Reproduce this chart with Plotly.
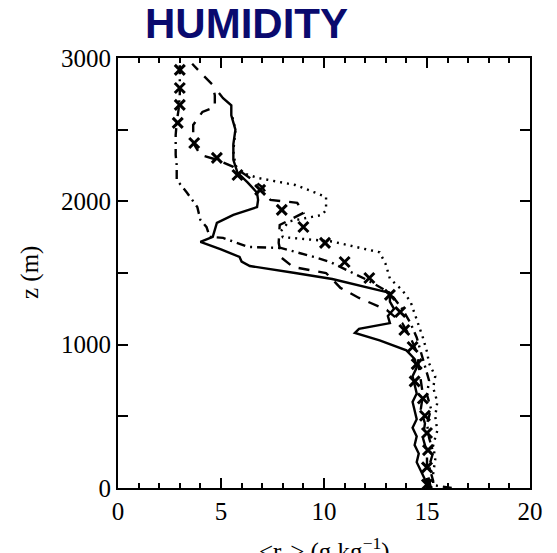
import plotly.graph_objects as go

# ---- data (x = <r_v> in g/kg, z = height in m) ----
solid_z = [0, 60, 120, 180, 240, 300, 360, 420, 480, 540, 600, 660, 720, 780, 840, 900, 960,
           1030, 1082, 1110, 1150, 1200, 1250, 1300, 1361, 1410, 1458, 1500, 1549, 1580, 1612,
           1665, 1717, 1752, 1800, 1850, 1905, 1960, 2010, 2060, 2130, 2200, 2290, 2400, 2500,
           2600, 2670, 2720, 2756]
solid_x = [15.1, 14.9, 14.7, 14.5, 14.6, 14.4, 14.5, 14.3, 14.5, 14.4, 14.3, 14.5, 14.4, 14.3,
           14.5, 14.4, 14.0, 12.7, 11.5, 11.7, 13.2, 13.1, 13.4, 13.2, 13.2, 11.8, 10.4, 8.6,
           6.4, 6.0, 5.9, 5.0, 4.0, 4.6, 4.7, 4.8, 5.6, 6.75, 6.8, 6.75, 6.3, 5.8, 5.6, 5.6,
           5.7, 5.5, 5.5, 5.1, 4.9]

dotted_z = [0, 100, 200, 300, 400, 500, 600, 700, 780, 870, 950, 1050, 1170, 1300, 1380, 1460,
            1560, 1645, 1680, 1720, 1750, 1790, 1860, 1890, 1905, 1940, 1990, 2030, 2065, 2114,
            2163, 2200, 2250, 2350, 2500, 2620]
dotted_x = [15.2, 15.3, 15.4, 15.3, 15.5, 15.4, 15.5, 15.3, 15.4, 15.1, 15.0, 14.8, 14.5, 14.2,
            13.8, 13.2, 13.0, 12.7, 11.6, 10.4, 8.0, 7.9, 8.3, 9.5, 9.9, 10.1, 10.1, 10.1, 9.5,
            8.6, 6.8, 6.0, 5.7, 5.6, 5.7, 5.5]

dashed_z = [0, 50, 150, 250, 350, 450, 550, 650, 750, 850, 950, 1050, 1150, 1242, 1326, 1396,
            1500, 1542, 1605, 1710, 1835, 1919, 1990, 2010, 2100, 2184, 2240, 2290, 2324, 2407,
            2533, 2624, 2659, 2740, 2812, 2870, 2960]
dashed_x = [15.2, 15.1, 15.0, 15.0, 14.8, 14.9, 14.7, 14.8, 14.7, 14.6, 14.5, 14.2, 13.8, 13.05,
            11.7, 10.8, 10.1, 8.5, 7.95, 7.8, 7.85, 9.0, 8.7, 7.4, 7.0, 6.2, 5.6, 4.8, 4.0,
            3.65, 3.65, 4.1, 4.7, 4.7, 4.6, 4.2, 3.6]

dashdot_z = [0, 20, 50, 150, 250, 350, 450, 550, 650, 750, 850, 950, 1050, 1150, 1250, 1361,
             1451, 1521, 1577, 1612, 1675, 1682, 1745, 1752, 1820, 1870, 1960, 2060, 2150, 2250,
             2324, 2393, 2463, 2550, 2650, 2750, 2850, 2950]
dashdot_x = [16.2, 15.3, 15.3, 15.1, 15.3, 15.1, 15.0, 15.2, 15.0, 15.1, 14.9, 14.7, 14.5, 14.2,
             13.8, 13.2, 12.1, 11.1, 10.3, 9.5, 7.9, 6.3, 5.1, 4.45, 4.3, 4.0, 3.85, 3.35, 2.85,
             2.85, 2.8, 2.8, 2.8, 2.85, 2.95, 3.0, 3.0, 3.0]

obs_z = [24, 144, 264, 384, 504, 624, 744, 864, 984, 1102, 1228, 1347, 1465, 1577, 1710, 1821,
         1940, 2080, 2184, 2303, 2407, 2547, 2673, 2791, 2917]
obs_x = [15.0, 15.0, 15.05, 15.0, 14.9, 14.8, 14.4, 14.5, 14.3, 13.9, 13.7, 13.2, 12.2, 11.0,
         10.05, 9.0, 7.95, 6.9, 5.8, 4.8, 3.7, 2.9, 3.0, 3.0, 3.0]

y_tickvals = [0, 500, 1000, 1500, 2000, 2500, 3000]
y_ticktext = ["0", "", "1000", "", "2000", "", "3000"]
x_tickvals = [0, 5, 10, 15, 20]
x_ticktext = ["0", "5", "10", "15", "20"]

fig = go.Figure()
lw = 2.4
fig.add_trace(go.Scatter(x=dotted_x, y=dotted_z, mode="lines",
                         line=dict(color="black", width=lw, dash="2px,5px")))
fig.add_trace(go.Scatter(x=dashdot_x, y=dashdot_z, mode="lines",
                         line=dict(color="black", width=lw, dash="9px,5px,2px,5px")))
fig.add_trace(go.Scatter(x=dashed_x, y=dashed_z, mode="lines",
                         line=dict(color="black", width=lw, dash="11px,9px")))
fig.add_trace(go.Scatter(x=solid_x, y=solid_z, mode="lines",
                         line=dict(color="black", width=lw)))
fig.add_trace(go.Scatter(x=obs_x, y=obs_z, mode="markers",
                         marker=dict(symbol="x-thin", size=10, color="black",
                                     line=dict(color="black", width=3))))

axis_font = dict(family="Liberation Serif", size=25, color="black")
fig.update_xaxes(range=[0, 20], tickvals=x_tickvals, ticktext=x_ticktext,
                 ticks="inside", ticklen=10, tickwidth=2, tickcolor="black",
                 minor=dict(dtick=1, ticks="inside", ticklen=5, tickwidth=1.5, tickcolor="black"),
                 showline=True, linewidth=2, linecolor="black", mirror="ticks",
                 showgrid=False, zeroline=False, tickfont=axis_font, automargin=False)
fig.update_yaxes(range=[0, 3000], tickvals=y_tickvals, ticktext=y_ticktext,
                 ticks="inside", ticklen=10, tickwidth=2, tickcolor="black",
                 showline=True, linewidth=2, linecolor="black", mirror="ticks",
                 showgrid=False, zeroline=False, tickfont=axis_font, automargin=False)

fig.update_layout(
    width=557, height=553, template="none",
    margin=dict(l=118, r=27, t=58, b=65),
    paper_bgcolor="white", plot_bgcolor="white", showlegend=False,
    annotations=[
        dict(text="<b>HUMIDITY</b>", xref="paper", yref="paper",
             x=(246 - 118) / 412, y=(488 - 24) / 430, xanchor="center", yanchor="middle",
             showarrow=False, font=dict(family="Liberation Sans", size=42, color="#0a0a6e")),
        dict(text="z (m)", xref="paper", yref="paper", textangle=-90,
             x=(30 - 118) / 412, y=0.5, xanchor="center", yanchor="middle",
             showarrow=False, font=axis_font),
        dict(text="&lt;r<sub>v</sub>&gt; (g kg<sup>−1</sup>)", xref="paper", yref="paper",
             x=0.5, y=(488 - 551) / 430, xanchor="center", yanchor="middle",
             showarrow=False, font=axis_font),
    ],
)

fig.write_html("out.html")
